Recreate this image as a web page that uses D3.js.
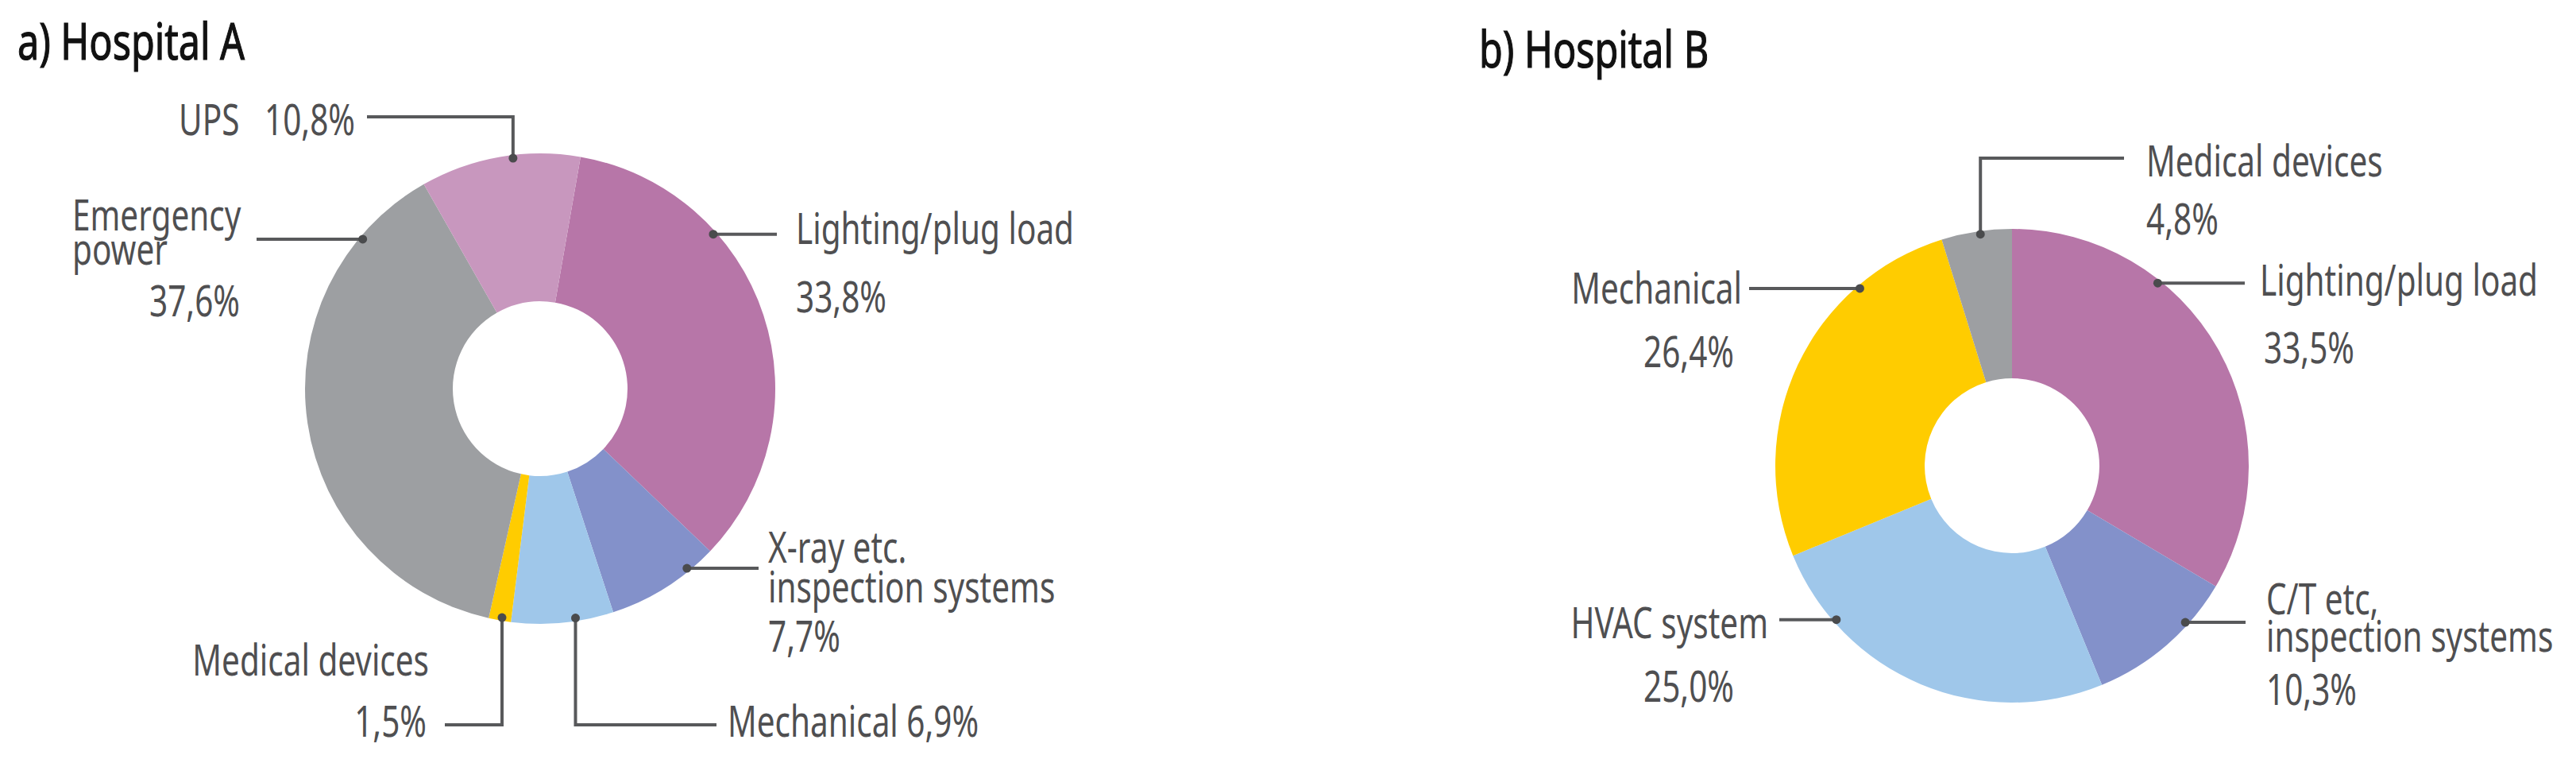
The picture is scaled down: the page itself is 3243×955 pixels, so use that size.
<!DOCTYPE html>
<html>
<head>
<meta charset="utf-8">
<script src="https://cdn.jsdelivr.net/npm/d3@7"></script>
<style>
  body { margin: 0; background: #fff; }
  svg { display: block; }
  .title { font-family: 'Noto Sans', sans-serif; font-size: 63px; fill: #111; stroke: #111; stroke-width: 1.2; }
  .label { font-family: 'Noto Sans', sans-serif; font-size: 54px; fill: #4f4f51; white-space: pre; }
  .leader { fill: none; stroke: #58595b; stroke-width: 4; }
  .dot { fill: #4a4b4d; }
</style>
</head>
<body>
<script>
const width = 3243
const height = 955

// a) Hospital A, clockwise from the top
const categoriesA = ['Lighting/plug load', 'X-ray etc.\ninspection systems', 'Mechanical', 'Medical devices', 'Emergency\npower', 'UPS']
const valuesA = [33.8, 7.7, 6.9, 1.5, 37.6, 10.8]

// b) Hospital B, clockwise from the top
const categoriesB = ['Lighting/plug load', 'C/T etc,\ninspection systems', 'HVAC system', 'Mechanical', 'Medical devices']
const valuesB = [33.5, 10.3, 25.0, 26.4, 4.8]

// percentages are written with a decimal comma in the figure
const fmt = (v) => d3.format('.1f')(v).replace('.', ',') + '%'

// layout: t = where the dot sits along its slice, path = leader shape,
// rows = [what, x, baseline, anchor]
const charts = [
  {
    title: 'a) Hospital A', titleX: 22, titleY: 75,
    categories: categoriesA, values: valuesA,
    colors: ['#b776a8', '#8391ca', '#9fc7ea', '#ffcc00', '#9d9fa2', '#c897be'],
    cx: 680, cy: 489, outer: 296, inner: 110, start: 9.9,
    labels: [
      { t: 0.31, path: [['h', 978]], rows: [[0, 1002, 307], ['pct', 1002, 393]] },
      { t: 0.25, path: [['h', 955]], rows: [[0, 967, 708], [1, 967, 758], ['pct', 967, 820]] },
      { t: 0.37, path: [['v', 912], ['h', 902]], rows: [['both', 916, 927]] },
      { t: 0.42, path: [['v', 912], ['h', 560]], rows: [[0, 540, 850, 'end'], ['pct', 537, 927, 'end']] },
      { t: 0.853, path: [['h', 323]], rows: [[0, 91, 290], [1, 91, 333], ['pct', 302, 398, 'end']] },
      { t: 0.58, path: [['v', 147], ['h', 462]], rows: [['wide', 447, 170, 'end']] },
    ],
  },
  {
    title: 'b) Hospital B', titleX: 1862, titleY: 85,
    categories: categoriesB, values: valuesB,
    colors: ['#b776a8', '#8391ca', '#9fc7ea', '#ffcc00', '#9d9fa2'],
    cx: 2533, cy: 586, outer: 298, inner: 110, start: 0,
    labels: [
      { t: 0.32, path: [['h', 2826]], rows: [[0, 2845, 372], ['pct', 2850, 457]] },
      { t: 0.31, path: [['h', 2827]], rows: [[0, 2853, 773], [1, 2853, 820], ['pct', 2853, 887]] },
      { t: 0.79, path: [['h', 2240]], rows: [[0, 2226, 803, 'end'], ['pct', 2183, 883, 'end']] },
      { t: 0.754, path: [['h', 2202]], rows: [[0, 2193, 382, 'end'], ['pct', 2183, 462, 'end']] },
      { t: 0.55, path: [['v', 199], ['h', 2674]], rows: [[0, 2702, 222], ['pct', 2702, 295]] },
    ],
  },
]

const stretch = 0.75

const svg = d3
  .select('body')
  .append('svg')
  .attr('width', width)
  .attr('height', height)
  .attr('viewBox', `0 0 ${width} ${height}`)

charts.forEach((c) => {
  const rad = (c.start * Math.PI) / 180
  const pie = d3
    .pie()
    .sort(null)
    .startAngle(rad)
    .endAngle(rad + 2 * Math.PI)
  const slices = pie(c.values)
  const arc = d3.arc().innerRadius(c.inner).outerRadius(c.outer)

  const g = svg.append('g').attr('transform', `translate(${c.cx},${c.cy})`)
  g.selectAll('path')
    .data(slices)
    .enter()
    .append('path')
    .attr('d', arc)
    .attr('fill', (d, i) => c.colors[i])

  svg
    .append('text')
    .attr('class', 'title')
    .attr('transform', `translate(${c.titleX},${c.titleY}) scale(0.77,1)`)
    .text(c.title)

  c.labels.forEach((l, i) => {
    const s = slices[i]
    const a = s.startAngle + l.t * (s.endAngle - s.startAngle)
    const r = c.outer - 4
    const px = c.cx + r * Math.sin(a)
    const py = c.cy - r * Math.cos(a)

    // leader line: horizontal, or vertical then horizontal
    const pts = [[px, py]]
    let x = px
    let y = py
    l.path.forEach(([dir, v]) => {
      if (dir === 'h') x = v
      else y = v
      pts.push([x, y])
    })
    svg.append('path').attr('class', 'leader').attr('d', d3.line()(pts))
    svg.append('circle').attr('class', 'dot').attr('cx', px).attr('cy', py).attr('r', 5.5)

    const parts = c.categories[i].split('\n')
    l.rows.forEach(([what, tx, ty, anchor]) => {
      let txt
      if (what === 'pct') txt = fmt(c.values[i])
      else if (what === 'both') txt = parts.join(' ') + ' ' + fmt(c.values[i])
      else if (what === 'wide') txt = parts.join(' ') + '   ' + fmt(c.values[i])
      else txt = parts[what]
      svg
        .append('text')
        .attr('class', 'label')
        .attr('text-anchor', anchor || 'start')
        .attr('transform', `translate(${tx},${ty}) scale(${stretch},1)`)
        .text(txt)
    })
  })
})
</script>
</body>
</html>
